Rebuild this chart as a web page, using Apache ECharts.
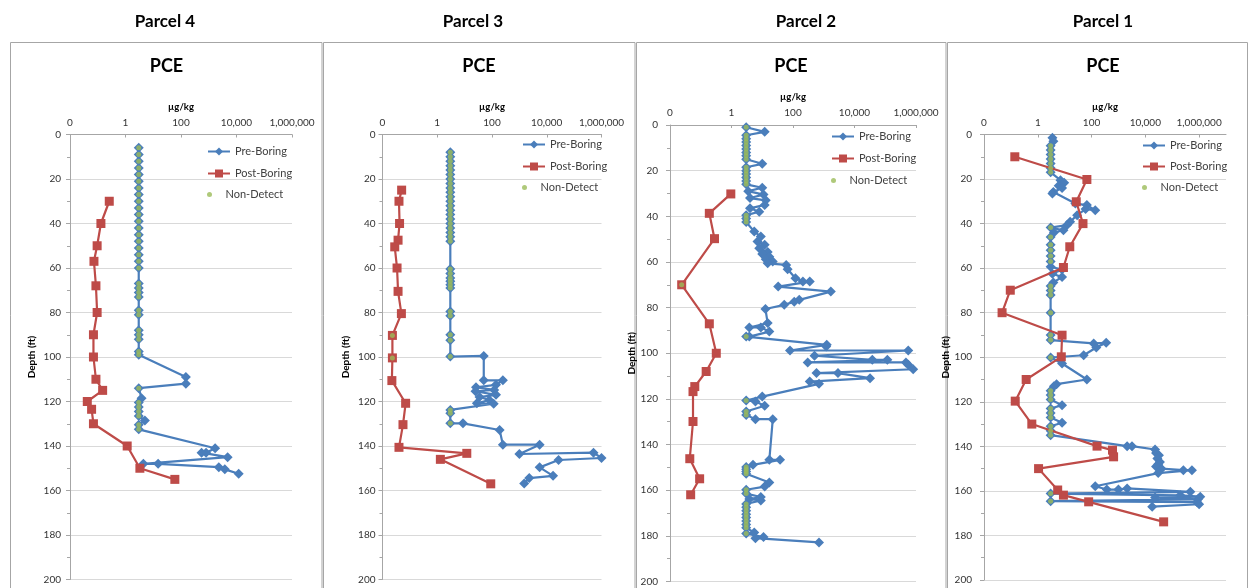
<!DOCTYPE html>
<html>
<head>
<meta charset="utf-8">
<script src="https://cdn.jsdelivr.net/npm/echarts@6/dist/echarts.min.js"></script>
<style>
  html, body { margin: 0; padding: 0; background: #fff; }
  #chart { width: 1248px; height: 588px; }
</style>
</head>
<body>
<div id="chart"></div>
<script>
// PCE soil concentrations by depth, four parcels.
// Each point: [depth (ft), concentration (µg/kg), non-detect flag]
const parcelNames = ['Parcel 4', 'Parcel 3', 'Parcel 2', 'Parcel 1'];
const analyte = 'PCE';
const unitName = 'µg/kg';
const depthName = 'Depth (ft)';
const seriesNames = ['Pre-Boring', 'Post-Boring', 'Non-Detect'];
const xTickLabels = ['0', '1', '100', '10,000', '1,000,000'];
const depthTicks = [0, 200, 20];

const p4Pre = [
  [6,3,1],[9,3,1],[12,3,1],[15,3,1],[18,3,1],[21,3,1],[24,3,1],[27,3,1],[30,3,1],[33,3,1],
  [36,3,1],[39,3,1],[42,3,1],[45,3,1],[48,3,1],[51,3,1],[54,3,1],[57,3,1],[60,3,1],
  [67,3,1],[69,3,1],[71,3,1],[73,3,1],[79,3,1],[81,3,1],[88,3,1],[90,3,1],[92,3,1],[97.5,3,1],[99,3,1],
  [109,150,0],[112,150,0],[114,3,1],[118.5,3.8,0],[120.5,3,1],[122.5,3,1],[124.5,3,1],[126.5,3,1],
  [128.5,5,0],[130.5,3,1],[132.5,3,1],
  [141,1700,0],[143,800,0],[143,550,0],[145,4800,0],[148,4.4,0],[148,15,0],[149.5,2300,0],
  [150.5,3800,0],[152.5,12000,0]
];
const p4Post = [
  [30,0.26,0],[40,0.13,0],[50,0.095,0],[57,0.073,0],[68,0.086,0],[80,0.095,0],[90,0.07,0],
  [100,0.07,0],[110,0.086,0],[115,0.15,0],[120,0.042,0],[123.5,0.06,0],[130,0.07,0],
  [140,1.15,0],[150,3.3,0],[155,60,0]
];

const p3Pre = [
  [8,3,1],[10,3,1],[12,3,1],[14,3,1],[16,3,1],[18,3,1],[20,3,1],[22,3,1],[24,3,1],[26,3,1],
  [28,3,1],[30,3,1],[32,3,1],[34,3,1],[36,3,1],[38,3,1],[40,3,1],[42,3,1],[44,3,1],[46,3,1],[48,3,1],
  [60.5,3,1],[62.5,3,1],[64.5,3,1],[66,3,1],[67.5,3,1],[69,3,1],[79.5,3,1],[81.5,3,1],
  [90,3,1],[92.5,3,1],[99.8,3,1],
  [99.5,50,0],[110.5,50,0],[110.5,250,0],[112.5,140,0],[113.6,26,0],[114.8,120,0],[115.4,25,0],
  [117,140,0],[118,35,0],[119.3,80,0],[120.8,28,0],[121,115,0],[123.8,3,1],[125.3,3,1],
  [129.8,3,1],[129.8,8.7,0],[132.8,190,0],[139.4,250,0],[139.4,5500,0],[143.6,1000,0],
  [143,510000,0],[145.4,1000000,0],[146.3,27000,0],[149.6,5500,0],[153.4,17000,0],
  [154.4,2300,0],[156.8,1500,0]
];
const p3Post = [
  [25,0.05,0],[30,0.04,0],[40,0.042,0],[47.5,0.037,0],[50.5,0.028,0],[60,0.034,0],[70.5,0.037,0],
  [80.5,0.049,0],[90.3,0.023,1],[100.4,0.023,1],[110.6,0.022,0],[120.8,0.07,0],[130.4,0.056,0],
  [140.6,0.04,0],[143.3,12,0],[146,1.3,0],[157,90,0]
];

const p2Pre = [
  [1,3,1],[3,12,0],[4.5,3,1],[6,3,1],[7.5,3,1],[9,3,1],[10.5,3,1],[12,3,1],[13.5,3,1],[15,3,1],
  [17,10,0],[18.5,3,1],[20,3,1],[21.5,3,1],[23,3,1],[24.5,3,1],[26,3,1],[27.5,10,0],[29,3.5,0],
  [30.5,11,0],[32,4,0],[33,13,0],[35,12,0],[36.5,4,0],[38,8,0],[39.5,3,1],[41,3,1],[42.5,3,1],
  [46.7,5.5,0],[48.9,9,0],[51,7,0],[52.5,12,0],[54,8,0],[55.6,15,0],[56.5,10,0],[57.7,17,0],
  [58.8,13,0],[59.8,22,0],[60.6,15,0],[61.3,60,0],[63.2,67,0],[67.1,120,0],[68.6,210,0],
  [68.6,350,0],[70.8,33,0],[73,1700,0],[76.6,160,0],[77.4,110,0],[78.8,52,0],[80.6,12.7,0],
  [86.8,15,0],[88.7,3.8,0],[88.7,9,0],[90.5,17,0],[92.7,3.8,0],[92.7,3,1],
  [96.3,1250,0],[97,1200,0],[98.8,80,0],[98.8,560000,0],[101.1,500,0],[102.9,38000,0],
  [102.9,117000,0],[104,300,0],[104,470000,0],[105,560000,0],[107,810000,0],[108.7,580,0],
  [108.7,2900,0],[110.9,32000,0],[112.4,350,0],[113.4,700,0],[119,10,0],[120.7,3,1],
  [121.1,6,0],[123,12,0],[125.5,3,1],[127,3,1],[128.9,6,0],[128.9,22,0],[146.7,17,0],
  [146.7,38,0],[148.9,5,0],[149.8,3,1],[150.8,3,1],[151.8,3,1],[152.8,3,1],[156.6,17,0],
  [158.4,12,0],[159.8,3,1],[161.5,3,1],[163,9,0],[163.9,3.8,0],[164.5,9,0],[166,3,1],
  [167.5,3,1],[169,3,1],[170.5,3,1],[172,3,1],[173.5,3,1],[175,3,1],[176.5,3,1],
  [178.5,5.5,0],[179,3,1],[180.5,11,0],[181,6,0],[182.9,700,0]
];
const p2Post = [
  [30.2,0.95,0],[38.7,0.19,0],[49.8,0.28,0],[70,0.024,1],[87.1,0.19,0],[100,0.32,0],
  [108,0.15,0],[114.6,0.064,0],[116.8,0.056,0],[129.9,0.056,0],[146.2,0.044,0],
  [155,0.092,0],[162,0.047,0]
];

const p1Pre = [
  [1.5,3.5,0],[3,3.8,0],[5,3,1],[7,3,1],[9,3,1],[11,3,1],[13,3,1],[15,3,1],[17,3,1],
  [20.5,7,0],[21.7,9.6,0],[23,6,0],[24,8,0],[25.8,3.8,0],[26.5,3.5,0],
  [31,25,0],[31.7,67,0],[34,137,0],[33.5,60,0],[36.2,29,0],[39.2,16,0],[40.7,12,0],
  [41.8,3,1],[43,9,0],[44,4,0],[46,3,1],[49.5,3,1],[52,3,1],[54.5,3,1],[57,3,1],
  [59.4,3,0],[60.6,8,0],[62.5,3.5,0],[64,8,0],[66.4,3.8,0],[68,3,1],[70,3,1],[72,3,1],
  [80,3,1],[90,3,1],[92.3,3,1],[93.8,120,0],[93.5,350,0],[95.6,150,0],[99.1,51,0],
  [100.1,3,1],[102.8,8,0],[110,67,0],[112.1,5,0],[113,4,0],[115,3,1],[117,3,1],[119,3,1],
  [121.5,8,0],[123,3,1],[125,3,1],[127,3,1],[129.4,8,0],[131,3,1],[133,3,1],[135,3,1],
  [139.9,2100,0],[139.9,3200,0],[141.4,23000,0],[143,25000,0],[144,32000,0],[145.5,28000,0],
  [147,35000,0],[148,30000,0],[149,25000,0],[150,40000,0],[150.7,260000,0],[150.7,540000,0],
  [152,30000,0],[157.9,137,0],[159.4,370,0],[159.4,1000,0],[158.9,2100,0],[160.4,470000,0],
  [161.2,3,1],[162,200000,0],[162.6,1100000,0],[163,23000,0],[163.8,900000,0],[164.6,3,1],
  [165,830000,0],[166,1000000,0],[167.1,18000,0]
];
const p1Post = [
  [10,0.14,0],[20.2,67,0],[30.2,27,0],[40,48,0],[50.4,15.5,0],[59.7,9,0],[69.9,0.095,0],
  [80,0.047,0],[90.1,8,0],[99.8,7.5,0],[110,0.37,0],[119.7,0.145,0],[130,0.6,0],
  [139.9,160,0],[141.7,600,0],[144.7,660,0],[150,1.07,0],[159.6,5.5,0],[161.9,9,0],
  [164.9,78,0],[173.9,48000,0]
];

const preSets = [p4Pre, p3Pre, p2Pre, p1Pre];
const postSets = [p4Post, p3Post, p2Post, p1Post];

// Panel layout (page pixels)
const panels = [
  { box: [10.5, 42.5, 311.5], grid: [70, 134.5, 222, 445], xMax: 1e6, title: 165, pce: 166.5,
    yNameGap: 33, yLabelMargin: 9, legend: [207, 153, 175, 196] },
  { box: [323.5, 42.5, 311.5], grid: [382.5, 134.5, 219, 445], xMax: 1e6, title: 473, pce: 479,
    yNameGap: 32, yLabelMargin: 7, legend: [522, 146, 168, 189] },
  { box: [636.5, 42.5, 309.5], grid: [670, 125, 246, 456.5], xMax: 1e6, title: 806, pce: 791,
    yNameGap: 17, yLabelMargin: 12, legend: [831, 138, 160, 182] },
  { box: [947.5, 42.5, 300], grid: [984, 134.5, 242, 445.5], xMax: 1e7, title: 1103, pce: 1103,
    yNameGap: 20, yLabelMargin: 12, legend: [1142, 147, 168, 189] }
];

const FONT = 'Lato, "Open Sans", sans-serif';
const BLUE = '#4A7EBB', RED = '#BE4B48', GREEN = '#9BBB59';

const grids = [], xAxes = [], yAxes = [], series = [], legends = [], graphics = [];

panels.forEach((p, i) => {
  graphics.push({
    type: 'rect', silent: true, z: -1,
    shape: { x: p.box[0], y: p.box[1], width: p.box[2], height: 600 },
    style: { fill: '#fff', stroke: '#a6a6a6', lineWidth: 1 }
  });
  graphics.push({
    type: 'text', silent: true,
    style: { text: parcelNames[i], x: p.title, y: 22, textAlign: 'center', textVerticalAlign: 'middle',
             font: 'bold 17px ' + FONT, fill: '#000' }
  });
  graphics.push({
    type: 'text', silent: true,
    style: { text: analyte, x: p.pce, y: 66.5, textAlign: 'center', textVerticalAlign: 'middle',
             font: 'bold 18px ' + FONT, fill: '#000' }
  });

  grids.push({ left: p.grid[0], top: p.grid[1], width: p.grid[2], height: p.grid[3] });

  xAxes.push({
    type: 'log', logBase: 100, gridIndex: i, position: 'top',
    min: 0.01, max: p.xMax,
    name: unitName, nameLocation: 'middle', nameGap: 23,
    nameTextStyle: { fontFamily: FONT, fontWeight: 'bold', fontSize: 9.5, color: '#000' },
    axisLine: { show: true, lineStyle: { color: '#a6a6a6', width: 1 } },
    axisTick: { show: true, inside: true, length: 3, lineStyle: { color: '#a6a6a6' } },
    axisLabel: {
      margin: 7, fontFamily: FONT, fontSize: 10, color: '#333',
      showMaxLabel: p.xMax <= 1e6,
      formatter: v => {
        const k = Math.round(Math.log(v) / Math.log(100)) + 1;
        return (k >= 0 && k < xTickLabels.length) ? xTickLabels[k] : '';
      }
    },
    splitLine: { show: false }
  });

  yAxes.push({
    type: 'value', gridIndex: i, inverse: true,
    min: depthTicks[0], max: depthTicks[1], interval: depthTicks[2],
    name: depthName, nameLocation: 'middle', nameRotate: 90, nameGap: p.yNameGap,
    nameTextStyle: { fontFamily: FONT, fontWeight: 'bold', fontSize: 10, color: '#000' },
    axisLine: { show: true, lineStyle: { color: '#a6a6a6', width: 1 } },
    axisTick: { show: true, length: 4, lineStyle: { color: '#a6a6a6' } },
    minorTick: { show: true, splitNumber: 2, length: 3, lineStyle: { color: '#a6a6a6' } },
    axisLabel: { margin: p.yLabelMargin, fontFamily: FONT, fontSize: 10, color: '#333' },
    splitLine: { show: true, lineStyle: { color: '#d9d9d9', width: 1 } }
  });

  const pre = preSets[i], post = postSets[i];
  series.push({
    name: seriesNames[0], type: 'line', xAxisIndex: i, yAxisIndex: i,
    data: pre.map(d => [d[1], d[0]]),
    symbol: 'diamond', symbolSize: 10, color: BLUE,
    lineStyle: { color: BLUE, width: 2.2 }, itemStyle: { color: BLUE },
    z: 2
  });
  series.push({
    name: seriesNames[1], type: 'line', xAxisIndex: i, yAxisIndex: i,
    data: post.map(d => [d[1], d[0]]),
    symbol: 'rect', symbolSize: 9, color: RED,
    lineStyle: { color: RED, width: 2.2 }, itemStyle: { color: RED },
    z: 3
  });
  series.push({
    name: seriesNames[2], type: 'scatter', xAxisIndex: i, yAxisIndex: i,
    data: pre.concat(post).filter(d => d[2] === 1).map(d => [d[1], d[0]]),
    symbol: 'circle', symbolSize: 5, color: GREEN, itemStyle: { color: GREEN },
    z: 4
  });

  seriesNames.forEach((nm, k) => {
    legends.push({
      data: [nm], orient: 'vertical', selectedMode: false,
      left: p.legend[0], top: p.legend[k + 1] - 7,
      itemWidth: 22, itemHeight: k === 2 ? 5 : 10, padding: 0,
      textStyle: { fontFamily: FONT, fontSize: 11, color: '#404040' }
    });
  });
});

const chart = echarts.init(document.getElementById('chart'), null, { renderer: 'canvas' });
chart.setOption({
  animation: false,
  backgroundColor: '#fff',
  grid: grids,
  xAxis: xAxes,
  yAxis: yAxes,
  legend: legends,
  series: series,
  graphic: graphics
});
</script>
</body>
</html>
